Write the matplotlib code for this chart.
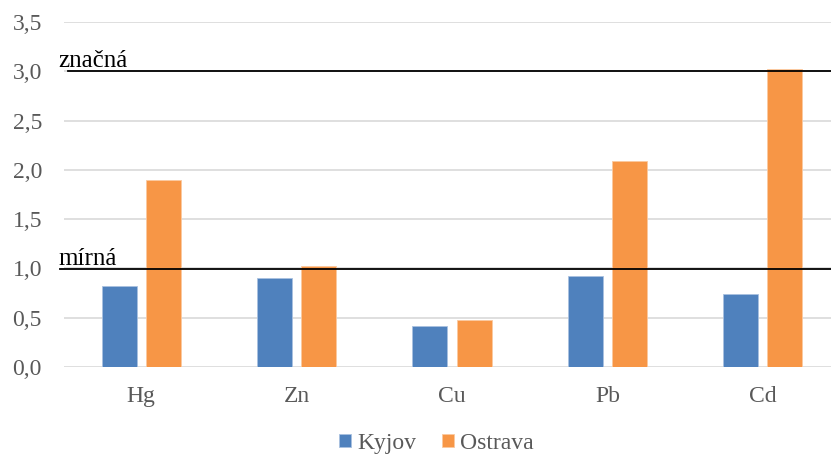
import numpy as np
import matplotlib.pyplot as plt

# Data
categories = ['Hg', 'Zn', 'Cu', 'Pb', 'Cd']
kyjov = [0.82, 0.90, 0.42, 0.92, 0.74]
ostrava = [1.90, 1.02, 0.48, 2.09, 3.02]
levels = [0.99, 3.0]
level_names = ['mírná', 'značná']
yticks = [0.0, 0.5, 1.0, 1.5, 2.0, 2.5, 3.0, 3.5]

plt.rcParams['font.family'] = ['Liberation Serif', 'DejaVu Serif']

fig = plt.figure(figsize=(8.31, 4.57), dpi=100)
# plot area runs slightly past the right edge of the picture
ax = fig.add_axes([63.5 / 831, 1 - 367 / 457, (840.5 - 63.5) / 831, (367 - 22) / 457])

x = np.arange(len(categories))
w = 0.225
gap = 0.06
ax.bar(x - (w + gap) / 2, kyjov, w, color='#4F81BD', edgecolor='#A9C1E0', linewidth=0.6, label='Kyjov', zorder=3)
ax.bar(x + (w + gap) / 2, ostrava, w, color='#F79646', edgecolor='#FBC9A0', linewidth=0.6, label='Ostrava', zorder=3)

ax.set_xlim(-0.5, len(categories) - 0.5)
ax.set_ylim(0, 3.5)
ax.set_yticks(yticks)
ax.set_yticklabels([('%.1f' % t).replace('.', ',') for t in yticks])
ax.set_xticks(x)
ax.set_xticklabels(categories)
ax.tick_params(axis='both', length=0, labelsize=17, colors='#595959')
ax.tick_params(axis='y', pad=15.5)
ax.tick_params(axis='x', pad=14)
ax.yaxis.grid(True, color='#D9D9D9', linewidth=1.2, zorder=0)
for s in ax.spines.values():
    s.set_visible(False)

# threshold lines with labels
starts = [-0.004, 0.006]
for lv, name, x0 in zip(levels, level_names, starts):
    ax.plot([x0, 1], [lv, lv], color='black', linewidth=1.3, transform=ax.get_yaxis_transform(),
            clip_on=False, zorder=4)
    ax.text(-0.007, lv - 0.005, name, transform=ax.get_yaxis_transform(), fontsize=18,
            color='black', ha='left', va='bottom', zorder=5)

leg = fig.legend(loc='lower center', bbox_to_anchor=(0.525, -0.04), ncol=2, frameon=False,
                 fontsize=17, handlelength=0.5, handleheight=0.5, handletextpad=0.25, columnspacing=1.1)
for t in leg.get_texts():
    t.set_color('#595959')

fig.savefig('out.png', dpi=100)
